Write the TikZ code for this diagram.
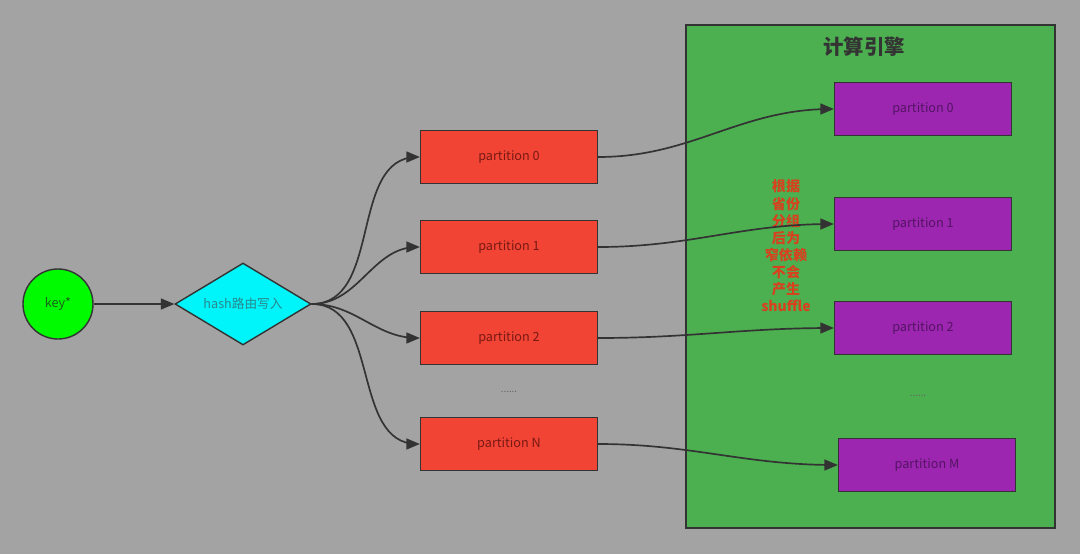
\documentclass[tikz,border=0pt]{standalone}
\usepackage{fontspec}
\setmainfont{Noto Sans CJK SC}
\usepackage{tikz}
\usetikzlibrary{shapes.geometric, arrows, positioning, calc}

\definecolor{bggray}{RGB}{163,163,163}
\definecolor{edgegray}{RGB}{51,51,51}
\definecolor{redfill}{RGB}{242,68,52}
\definecolor{redtext}{RGB}{120,25,20}
\definecolor{purplefill}{RGB}{156,38,176}
\definecolor{purpletext}{RGB}{85,20,100}
\definecolor{enginegreen}{RGB}{76,175,80}
\definecolor{keygreen}{RGB}{0,250,0}
\definecolor{keytext}{RGB}{25,100,25}
\definecolor{hashcyan}{RGB}{0,245,250}
\definecolor{hashtext}{RGB}{40,135,140}
\definecolor{notered}{RGB}{215,65,30}

\begin{document}
\begin{tikzpicture}[
  src/.style={draw=edgegray, line width=1pt, circle, fill=keygreen, minimum size=1.75cm, font=\small, text=keytext},
  router/.style={draw=edgegray, line width=1pt, diamond, aspect=1.66, fill=hashcyan, inner sep=0pt, minimum width=3.4cm, minimum height=2.05cm, font=\small, text=hashtext},
  inpart/.style={draw=edgegray, line width=1pt, minimum width=4.425cm, minimum height=1.325cm, align=center, font=\small, fill=redfill, text=redtext},
  outpart/.style={draw=edgegray, line width=1pt, minimum width=4.425cm, minimum height=1.325cm, align=center, font=\small, fill=purplefill, text=purpletext},
  arrow/.style={->, line width=1.2pt, draw=edgegray, >=triangle 45}
]
  % canvas
  \fill[bggray] (0,0) rectangle (27,-13.85);
  \useasboundingbox (0,0) rectangle (27,-13.85);

  % engine frame
  \node[draw=edgegray, line width=1pt, fill=enginegreen, minimum width=9.225cm, minimum height=12.575cm, inner sep=0pt] (engine) at (21.7625,-6.9125) {};
  \node[font=\fontsize{14.5}{17}\selectfont\bfseries, text=black!80] (title) at (21.6,-1.175) {计算引擎};

  \node[src] (key) at (1.45,-7.6) {key*};
  \node[router] (hash) at (6.075,-7.6) {hash路由写入};

  \node[inpart] (p0) at (12.725,-3.925) {partition 0};
  \node[inpart] (p1) at (12.725,-6.175) {partition 1};
  \node[inpart] (p2) at (12.725,-8.45) {partition 2};
  \node[font=\scriptsize, text=black!60] (dotsin) at (12.725,-9.8) {......};
  \node[inpart] (pn) at (12.725,-11.1) {partition N};

  \node[outpart] (q0) at (23.075,-2.725) {partition 0};
  \node[outpart] (q1) at (23.075,-5.6) {partition 1};
  \node[outpart] (q2) at (23.075,-8.2) {partition 2};
  \node[font=\scriptsize, text=black!60] (dotsout) at (22.95,-9.9) {......};
  \node[outpart] (qm) at (23.175,-11.625) {partition M};

  \node[font=\fontsize{10}{12.2}\selectfont\bfseries, text=notered, align=center, inner sep=0pt] (note) at (19.65,-6.15)
    {根据\\省份\\分组\\后为\\窄依赖\\不会\\产生\\shuffle};

  \draw[arrow] (key) -- (hash);
  \draw[arrow] (hash.east) to[out=0, in=180] (p0.west);
  \draw[arrow] (hash.east) to[out=0, in=180] (p1.west);
  \draw[arrow] (hash.east) to[out=0, in=180] (p2.west);
  \draw[arrow] (hash.east) to[out=0, in=180] (pn.west);

  \draw[arrow] (p0.east) to[out=0, in=180] (q0.west);
  \draw[arrow] (p1.east) to[out=0, in=180] (q1.west);
  \draw[arrow] (p2.east) to[out=0, in=180] (q2.west);
  \draw[arrow] (pn.east) to[out=0, in=180] (qm.west);
\end{tikzpicture}
\end{document}
